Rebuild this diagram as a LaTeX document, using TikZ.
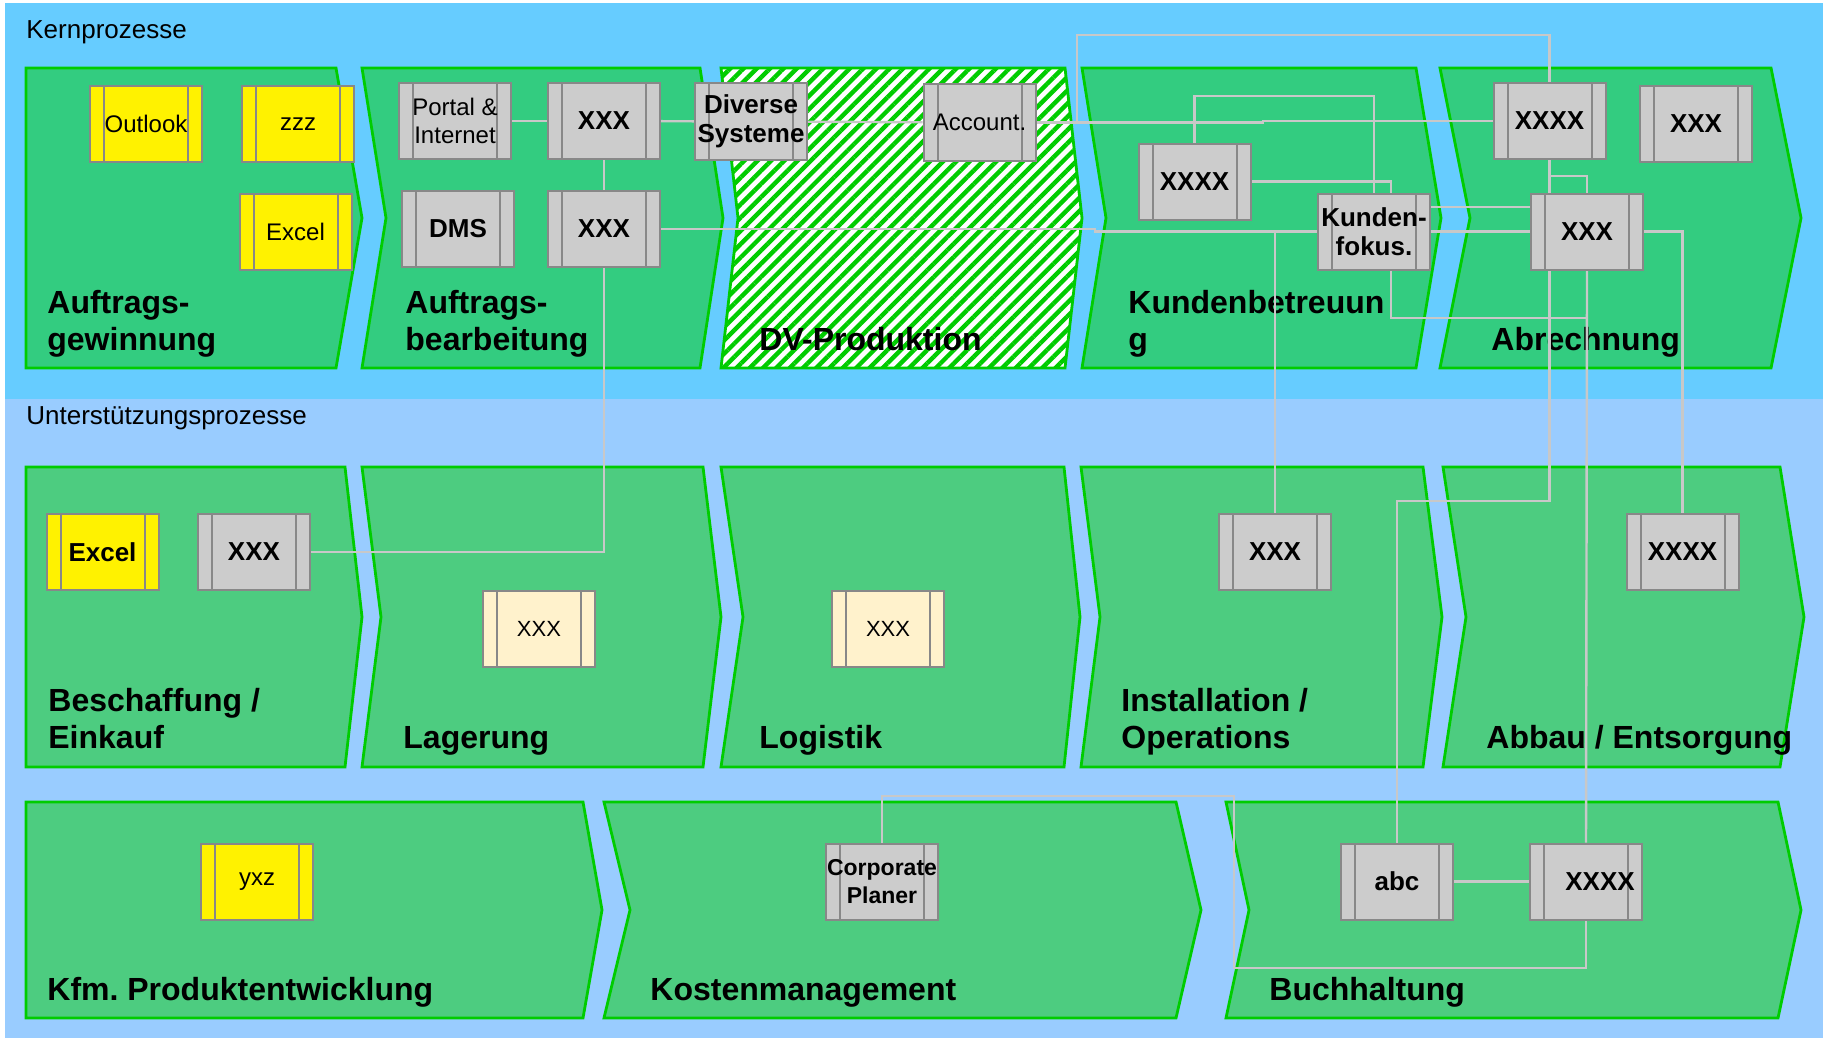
\documentclass[tikz,border=0pt]{standalone}
\usepackage{fontspec}
\setmainfont{Liberation Sans}
\usetikzlibrary{patterns.meta}
\frenchspacing

\pgfdeclarelayer{back}
\pgfdeclarelayer{links}
\pgfsetlayers{back,links,main}

\definecolor{kernblue}{RGB}{102,204,255}
\definecolor{supportblue}{RGB}{153,204,255}
\definecolor{kerngreen}{RGB}{51,204,128}
\definecolor{supportgreen}{RGB}{77,204,128}
\definecolor{edgegreen}{RGB}{0,204,0}
\definecolor{boxgray}{RGB}{204,204,204}
\definecolor{boxedge}{RGB}{136,136,136}
\definecolor{linkgray}{RGB}{200,200,200}
\definecolor{cream}{RGB}{255,242,204}

\tikzset{
    procshape/.style={draw=edgegreen, line width=1.4pt, line join=miter},
    proctitle/.style={anchor=base west, align=left, inner sep=0pt,
        font=\fontsize{16}{18.5}\selectfont\bfseries},
    bandlabel/.style={anchor=base west, inner sep=0pt, font=\fontsize{13}{15}\selectfont},
    appbox/.style={rectangle, draw=boxedge, line width=1pt, fill=boxgray,
        minimum width=56pt, minimum height=38pt, inner sep=0pt, align=center,
        font=\fontsize{13}{14.5}\selectfont\bfseries,
        path picture={\draw[boxedge, line width=1pt]
            ([xshift=7pt]path picture bounding box.north west) -- ([xshift=7pt]path picture bounding box.south west)
            ([xshift=-7pt]path picture bounding box.north east) -- ([xshift=-7pt]path picture bounding box.south east);}},
    yellowbox/.style={appbox, fill=yellow},
    creambox/.style={appbox, fill=cream, font=\fontsize{11}{13}\selectfont},
    plaintext/.style={font=\fontsize{12}{14}\selectfont},
    link/.style={draw=linkgray, line width=1.2pt}
}

\begin{document}
\begin{tikzpicture}[x=0.5pt, y=-0.5pt]
    \useasboundingbox (0,0) rectangle (1829,1038);

    \begin{pgfonlayer}{back}
        % Bands
        \fill[kernblue] (5,3) rectangle (1823,399);
        \fill[supportblue] (5,399) rectangle (1823,1038);
        \node[bandlabel] (kernlabel) at (26,39) {Kernprozesse};
        \node[bandlabel] (supportlabel) at (26,424) {Unterstützungsprozesse};

        % Core processes
        \foreach \a/\b/\c/\d in {26/26/336/362, 362/386/700/723, 1082/1106/1416/1441, 1440/1470/1771/1801}
            \draw[procshape, fill=kerngreen] (\a,68) -- (\c,68) -- (\d,218) -- (\c,368) -- (\a,368) -- (\b,218) -- cycle;
        \draw[procshape, preaction={fill=white},
              pattern={Lines[angle=45, distance=4.7pt, line width=2.2pt]}, pattern color=edgegreen]
            (721,68) -- (1065,68) -- (1082,218) -- (1065,368) -- (721,368) -- (738,218) -- cycle;

        \node[proctitle] (tgewinn) at (47,350) {Auftrags-\\gewinnung};
        \node[proctitle] (tbearb) at (405,350) {Auftrags-\\bearbeitung};
        \node[proctitle] (tdv) at (759,350) {DV-Produktion};
        \node[proctitle] (tkunden) at (1128,350) {Kundenbetreuun\\g};
        \node[proctitle] (tabrech) at (1491,350) {Abrechnung};

        % Support processes
        \foreach \a/\b/\c/\d in {26/26/345/362, 362/381/703/721, 721/743/1064/1080, 1081/1100/1423/1442, 1443/1466/1780/1804}
            \draw[procshape, fill=supportgreen] (\a,467) -- (\c,467) -- (\d,617) -- (\c,767) -- (\a,767) -- (\b,617) -- cycle;
        \foreach \a/\b/\c/\d in {26/26/583/602, 604/630/1176/1201, 1226/1249/1778/1801}
            \draw[procshape, fill=supportgreen] (\a,802) -- (\c,802) -- (\d,910) -- (\c,1018) -- (\a,1018) -- (\b,910) -- cycle;

        \node[proctitle] (teinkauf) at (48,748) {Beschaffung /\\Einkauf};
        \node[proctitle] (tlager) at (403,748) {Lagerung};
        \node[proctitle] (tlogistik) at (759,748) {Logistik};
        \node[proctitle] (tinstall) at (1121,748) {Installation /\\Operations};
        \node[proctitle] (tabbau) at (1486,748) {Abbau / Entsorgung};
        \node[proctitle] (tkfm) at (47,1000) {Kfm. Produktentwicklung};
        \node[proctitle] (tkosten) at (650,1000) {Kostenmanagement};
        \node[proctitle] (tbuch) at (1269,1000) {Buchhaltung};
    \end{pgfonlayer}

    % Systems, core row
    \node[yellowbox, plaintext] (outlook) at (146,124) {Outlook};
    \node[yellowbox, plaintext] (zzz) at (298,124) {zzz};
    \node[yellowbox, plaintext] (excelA) at (295.5,231.5) {Excel};
    \node[appbox, plaintext] (portal) at (455,121) {Portal \&\\Internet};
    \node[appbox] (xxxA) at (604,121) {XXX};
    \node[appbox] (dms) at (458,229) {DMS};
    \node[appbox] (xxxB) at (604,229) {XXX};
    \node[appbox] (diverse) at (751,121.5) {Diverse\\Systeme};
    \node[appbox, plaintext] (account) at (979.5,122.5) {Account.};
    \node[appbox] (xxxxK) at (1194.5,181.5) {XXXX};
    \node[appbox] (kundenfokus) at (1374,231.5) {Kunden-\\fokus.};
    \node[appbox] (xxxxR) at (1549.5,121) {XXXX};
    \node[appbox] (xxxR2) at (1696,124) {XXX};
    \node[appbox] (xxxR) at (1587,231.5) {XXX};

    % Systems, support rows
    \node[yellowbox] (excelB) at (102.5,552) {Excel};
    \node[appbox] (xxxE) at (254,552) {XXX};
    \node[creambox] (xxxL) at (539,629) {XXX};
    \node[creambox] (xxxG) at (888,629) {XXX};
    \node[appbox] (xxxI) at (1275,552) {XXX};
    \node[appbox] (xxxxE) at (1682.5,552) {XXXX};
    \node[yellowbox, plaintext] (yxz) at (257,881.5) {yxz};
    \node[appbox, font=\fontsize{11.5}{14}\selectfont\bfseries] (corpplan) at (882,881.5) {Corporate\\Planer};
    \node[appbox] (abc) at (1397,881.5) {abc};
    \node[appbox] (xxxxB) at (1586,881.5) {\hspace*{14pt}XXXX};

    % Interfaces
    \begin{pgfonlayer}{links}
        \coordinate (jogB) at (1095,229);
        \coordinate (jogA) at (1263,122);
        \coordinate (topA) at (1077,35);
        \coordinate (topK) at (1194.5,96);
        \coordinate (loopK) at (1500,318);
        \coordinate (branchR) at (1549.5,176);
        \coordinate (downR) at (1450,501);
        \coordinate (loopB) at (1234,968);
        \coordinate (overB) at (1234,796);

        \draw[link] (portal) -- (xxxA);
        \draw[link] (xxxA) -- (diverse);
        \draw[link] (xxxA) -- (xxxB);
        \draw[link] (xxxB.south) |- (xxxE.east);
        \draw[link] (xxxB.east) -- (jogB) |- (xxxR.west);
        \draw[link] (xxxI.north) -- (xxxI.north |- xxxR.west);
        \draw[link] (diverse) -- (account);
        \draw[link] (account.east) -- (account.east -| jogA) |- (xxxxR.west);
        \draw[link] (account.east -| topA) -- (topA) -| (xxxxR.north);
        \draw[link] (xxxxK.north) |- (topK) -| (kundenfokus.north);
        \draw[link] (xxxxK.east) -| ([xshift=8.5pt]kundenfokus.north);
        \draw[link] ([xshift=8.5pt]kundenfokus.south) |- (loopK) -| (xxxR.south);
        \draw[link] ([yshift=12.25pt]kundenfokus.east) -- ([yshift=12.25pt]kundenfokus.east -| xxxR.west);
        \draw[link] (xxxxR.south) |- (downR) -| (abc.north);
        \draw[link] (branchR) -| (xxxR.north);
        \draw[link] (xxxR.south) -- (xxxxB.north);
        \draw[link] (xxxR.east) -| (xxxxE.north);
        \draw[link] (xxxxB.south) |- (loopB) -- (overB) -| (corpplan.north);
        \draw[link] (abc) -- (xxxxB);
    \end{pgfonlayer}
\end{tikzpicture}
\end{document}
